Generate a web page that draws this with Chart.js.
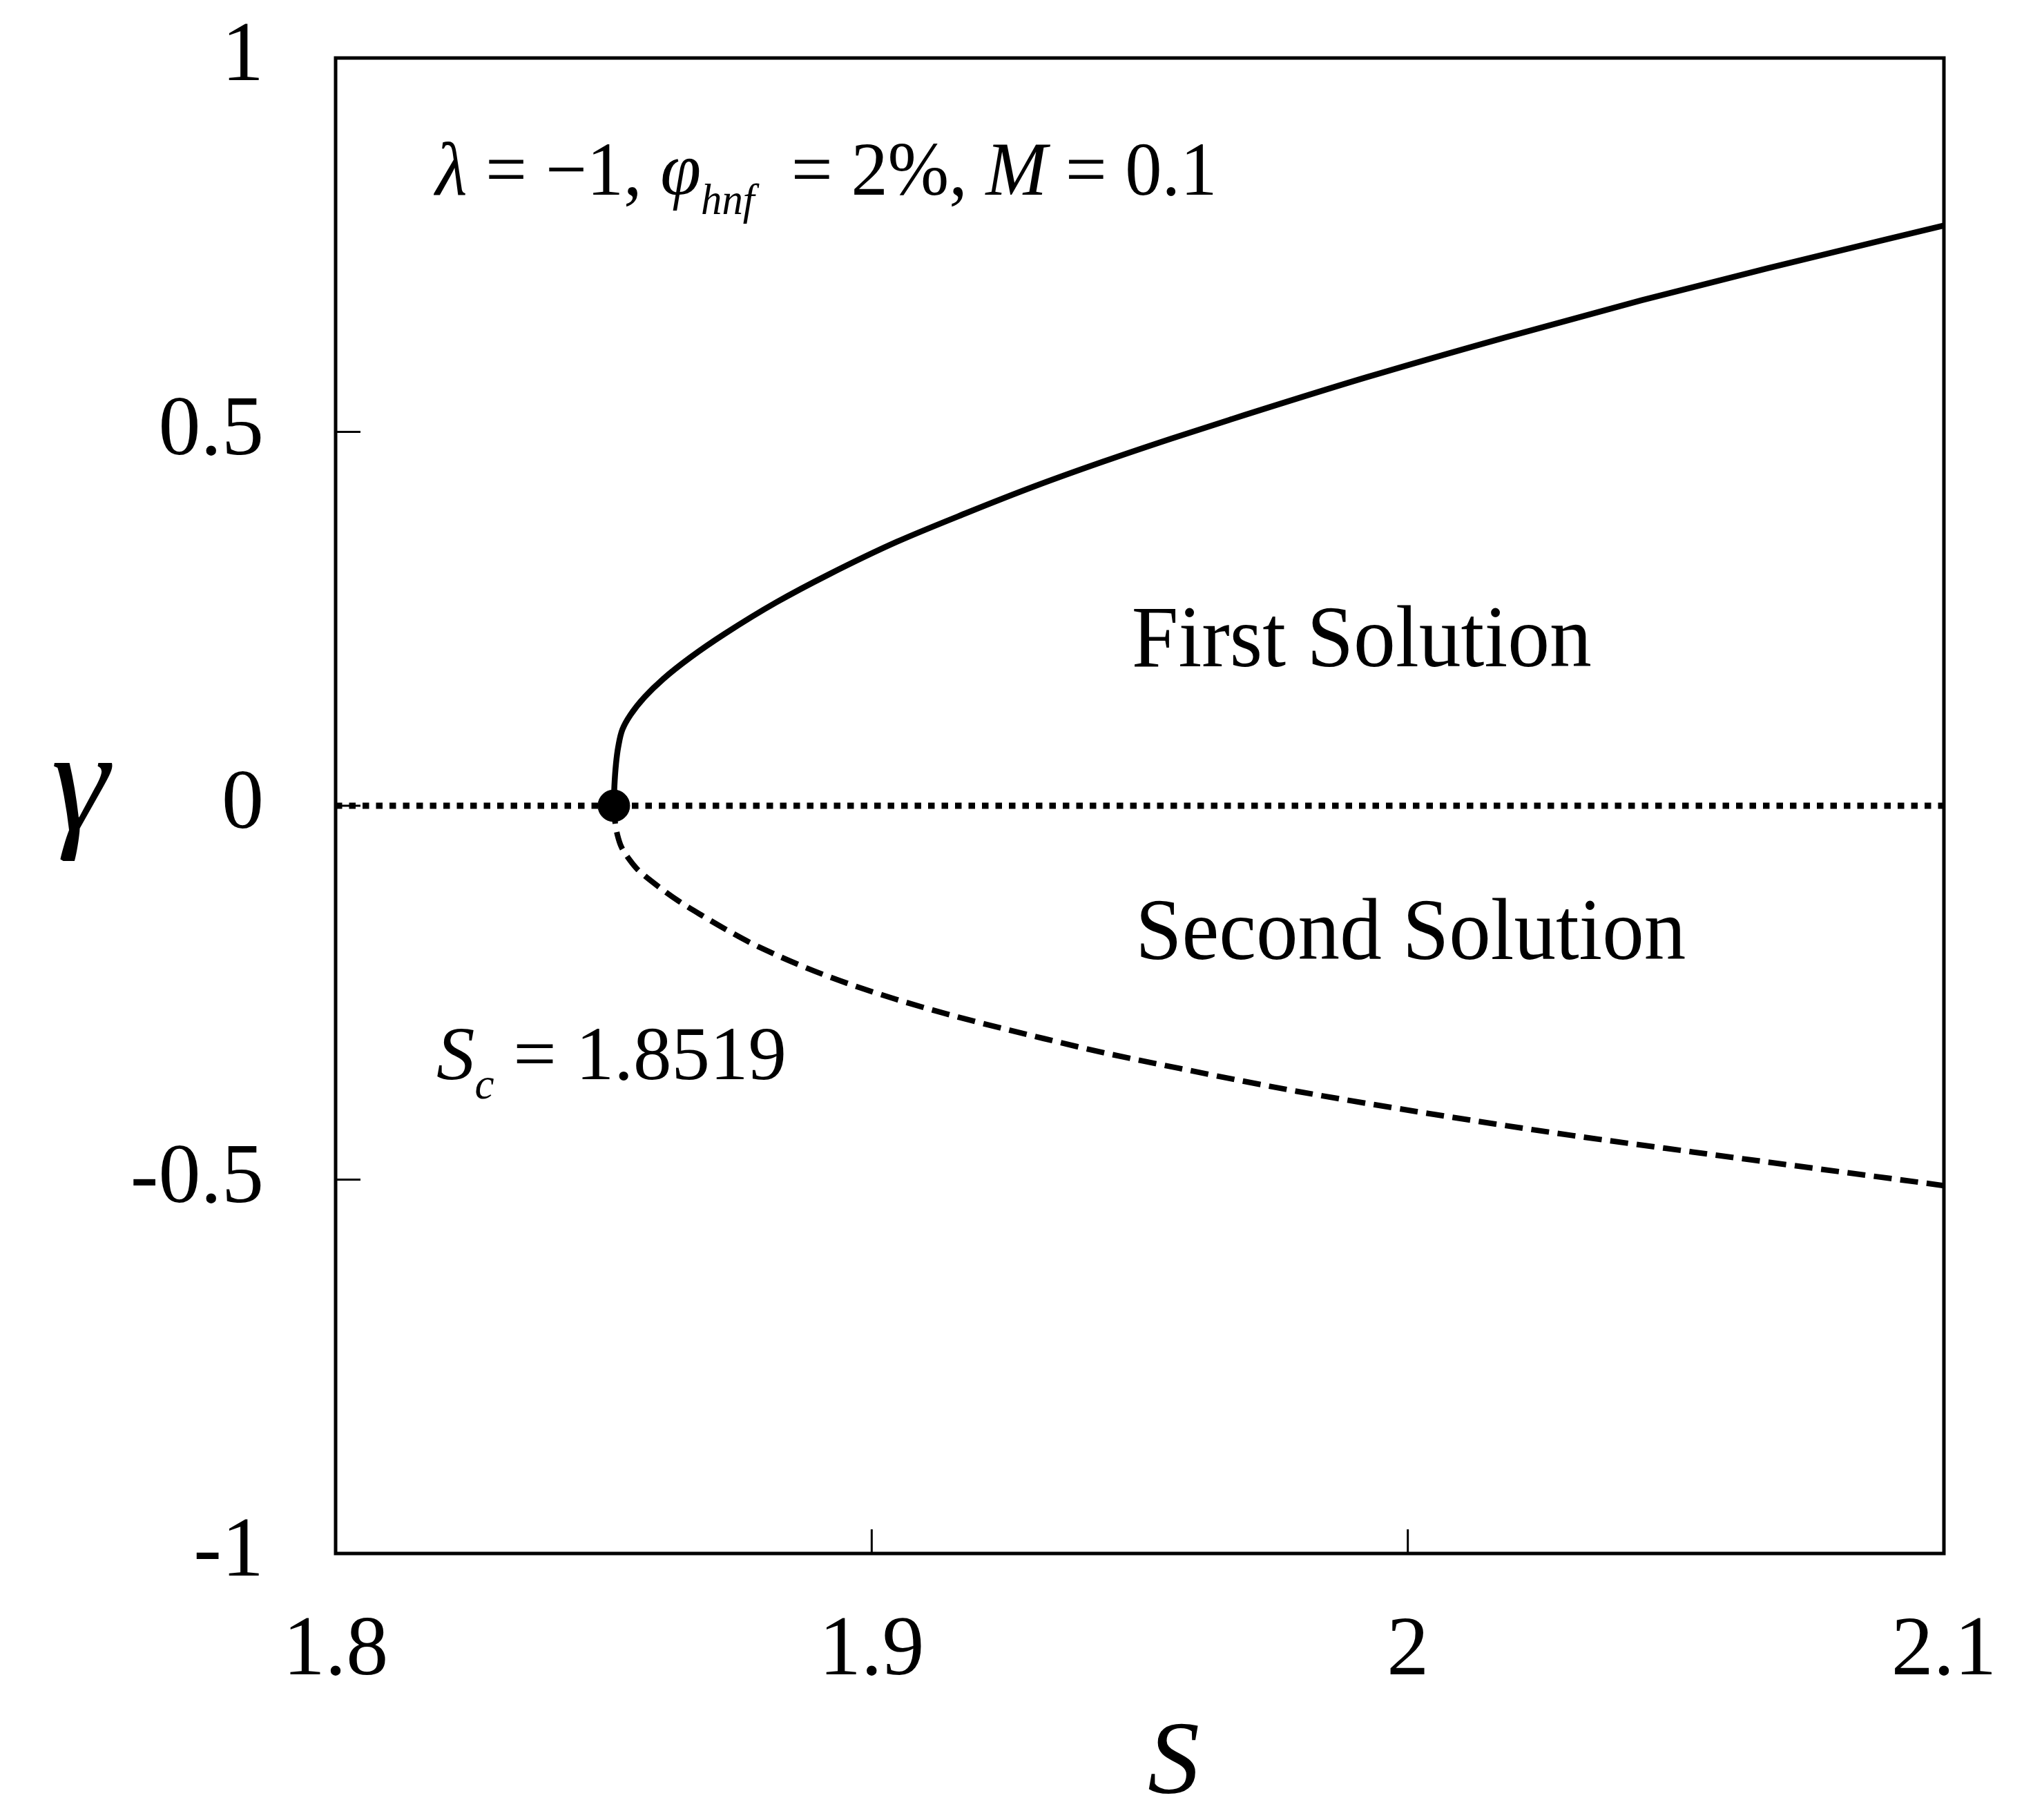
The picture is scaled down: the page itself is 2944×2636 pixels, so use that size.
<!DOCTYPE html>
<html>
<head>
<meta charset="utf-8">
<title>Dual solutions, critical point S_c</title>
<script src="https://cdn.jsdelivr.net/npm/chart.js@4.4.1/dist/chart.umd.min.js"></script>
<style>
    html, body { margin: 0; padding: 0; background: #fff; }
    #wrap { width: 2944px; height: 2636px; }
</style>
</head>
<body>
<div id="wrap"><canvas id="bifurcationChart" width="2944" height="2636"></canvas></div>
<script>
// First solution (upper branch)
const firstS = [1.8519, 1.8520, 1.8523, 1.8527, 1.8535, 1.8550, 1.8576, 1.8611, 1.8662, 1.8726,
    1.8822, 1.8919, 1.9047, 1.9175, 1.9303, 1.9431, 1.9559, 1.9667, 1.9923, 2.0180,
    2.0436, 2.0672, 2.1000];
const firstGamma = [0, 0.026, 0.056, 0.078, 0.102, 0.1215, 0.145, 0.1695, 0.1985, 0.230,
    0.272, 0.309, 0.353, 0.391, 0.427, 0.460, 0.491, 0.516, 0.573, 0.626,
    0.676, 0.719, 0.776];

// Second solution (lower branch)
const secondS = [1.8519, 1.8521, 1.8526, 1.8533, 1.8548, 1.8563, 1.8602, 1.8641, 1.8684, 1.8727,
    1.8790, 1.8918, 1.9046, 1.9174, 1.9302, 1.9431, 1.9538, 1.9794, 2.0051, 2.0307,
    2.0531, 2.1000];
const secondGamma = [0, -0.020, -0.040, -0.055, -0.072, -0.085, -0.108, -0.128, -0.147, -0.165,
    -0.189, -0.228, -0.259, -0.285, -0.308, -0.330, -0.346, -0.382, -0.413, -0.441,
    -0.463, -0.508];

// gamma = 0 reference line and the critical point
const zeroS = [1.8, 2.1];
const zeroGamma = [0, 0];
const criticalS = [1.8519];
const criticalGamma = [0];

const xTickValues = [1.8, 1.9, 2.0, 2.1];
const xTickLabels = ['1.8', '1.9', '2', '2.1'];
const yTickValues = [-1, -0.5, 0, 0.5, 1];
const yTickLabels = ['-1', '-0.5', '0', '0.5', '1'];

const SERIF = '"Liberation Serif", "Times New Roman", serif';

function toPoints(xs, ys) {
    return xs.map((x, i) => ({ x: x, y: ys[i] }));
}

// draw a run of regular / italic / subscript pieces, squeezed to a given width
function drawRuns(ctx, runs, x, y, size, width) {
    let total = 0;
    runs.forEach(r => {
        const s = r.sub ? size * 0.57 : size;
        ctx.font = (r.it ? 'italic ' : '') + s + 'px ' + SERIF;
        r.w = ctx.measureText(r.t).width;
        total += r.w;
    });
    ctx.save();
    ctx.translate(x, y);
    ctx.scale(width / total, 1);
    ctx.textAlign = 'left';
    ctx.textBaseline = 'alphabetic';
    ctx.fillStyle = '#000';
    let cx = 0;
    runs.forEach(r => {
        const s = r.sub ? size * 0.57 : size;
        ctx.font = (r.it ? 'italic ' : '') + s + 'px ' + SERIF;
        ctx.fillText(r.t, cx, r.sub ? size * 0.25 : 0);
        cx += r.w;
    });
    ctx.restore();
}

const framePlugin = {
    id: 'framePlugin',
    afterDraw(chart) {
        const ctx = chart.ctx;
        const area = chart.chartArea;
        const xs = chart.scales.x;
        const ys = chart.scales.y;

        ctx.save();
        ctx.strokeStyle = '#000';

        // inner tick marks
        ctx.lineWidth = 3;
        ctx.beginPath();
        xTickValues.slice(1, -1).forEach(v => {
            const px = xs.getPixelForValue(v);
            ctx.moveTo(px, area.bottom);
            ctx.lineTo(px, area.bottom - 35);
        });
        yTickValues.slice(1, -1).forEach(v => {
            const py = ys.getPixelForValue(v);
            ctx.moveTo(area.left, py);
            ctx.lineTo(area.left + 36, py);
        });
        ctx.stroke();

        // box
        ctx.lineWidth = 5;
        ctx.strokeRect(area.left, area.top, area.right - area.left, area.bottom - area.top);

        // annotations
        drawRuns(ctx, [
            { t: 'λ', it: true }, { t: ' = −1, ' }, { t: 'φ', it: true },
            { t: 'hnf', it: true, sub: true }, { t: '  = 2%, ' }, { t: 'M', it: true }, { t: ' = 0.1' }
        ], xs.getPixelForValue(1.8186), ys.getPixelForValue(0.817), 110, 1132);

        drawRuns(ctx, [
            { t: 'S', it: true }, { t: 'c', it: true, sub: true }, { t: ' = 1.8519' }
        ], xs.getPixelForValue(1.8188), ys.getPixelForValue(-0.366), 110, 507);

        drawRuns(ctx, [{ t: 'First Solution' }],
            xs.getPixelForValue(1.9485), ys.getPixelForValue(0.1865), 126, 666);
        drawRuns(ctx, [{ t: 'Second Solution' }],
            xs.getPixelForValue(1.9492), ys.getPixelForValue(-0.205), 126, 797);

        // axis titles
        ctx.fillStyle = '#000';
        ctx.textAlign = 'center';
        ctx.textBaseline = 'alphabetic';
        ctx.font = 'italic 150px ' + SERIF;
        ctx.fillText('S', xs.getPixelForValue(1.9563), area.bottom + 347);
        ctx.font = 'italic 212px ' + SERIF;
        ctx.fillText('γ', area.left - 370, ys.getPixelForValue(0) + 35);

        ctx.restore();
    }
};

const ctx = document.getElementById('bifurcationChart').getContext('2d');

const bifurcationChart = new Chart(ctx, {
    type: 'scatter',
    data: {
        datasets: [
            {
                label: 'Critical point',
                data: toPoints(criticalS, criticalGamma),
                backgroundColor: '#000',
                borderColor: '#000',
                pointRadius: 23,
                pointHoverRadius: 23,
                order: 0
            },
            {
                // the branches turn vertical at S_c, so interpolate S as a function of gamma
                label: 'First Solution',
                data: toPoints(firstS, firstGamma),
                indexAxis: 'y',
                showLine: true,
                borderColor: '#000',
                borderWidth: 8.5,
                pointRadius: 0,
                cubicInterpolationMode: 'monotone',
                order: 1
            },
            {
                label: 'Second Solution',
                data: toPoints(secondS, secondGamma),
                indexAxis: 'y',
                showLine: true,
                borderColor: '#000',
                borderWidth: 8,
                borderDash: [26, 12.5],
                pointRadius: 0,
                cubicInterpolationMode: 'monotone',
                order: 1
            },
            {
                label: 'gamma = 0',
                data: toPoints(zeroS, zeroGamma),
                showLine: true,
                borderColor: '#000',
                borderWidth: 9,
                borderDash: [9.5, 10],
                borderCapStyle: 'butt',
                pointRadius: 0,
                order: 2
            }
        ]
    },
    options: {
        responsive: false,
        devicePixelRatio: 1,
        animation: false,
        layout: {
            padding: { left: 0, top: 84, right: 129, bottom: 0 }
        },
        scales: {
            x: {
                type: 'linear',
                min: 1.8,
                max: 2.1,
                afterBuildTicks: s => { s.ticks = xTickValues.map(v => ({ value: v })); },
                afterFit: s => {
                    s.height = 386;
                    s.paddingLeft = 0;
                    s.paddingRight = 0;
                },
                grid: { display: false, drawTicks: false },
                border: { display: false },
                ticks: {
                    autoSkip: false,
                    maxRotation: 0,
                    padding: 70,
                    color: '#000',
                    font: { family: SERIF, size: 122 },
                    callback: (v, i) => xTickLabels[i]
                }
            },
            y: {
                type: 'linear',
                min: -1,
                max: 1,
                afterBuildTicks: s => { s.ticks = yTickValues.map(v => ({ value: v })); },
                afterFit: s => {
                    s.width = 486;
                    s.paddingTop = 0;
                    s.paddingBottom = 0;
                },
                grid: { display: false, drawTicks: false },
                border: { display: false },
                ticks: {
                    autoSkip: false,
                    padding: 104,
                    color: '#000',
                    font: { family: SERIF, size: 122 },
                    callback: (v, i) => yTickLabels[i]
                }
            }
        },
        plugins: {
            legend: { display: false },
            tooltip: { enabled: false }
        }
    },
    plugins: [framePlugin]
});
</script>
</body>
</html>
